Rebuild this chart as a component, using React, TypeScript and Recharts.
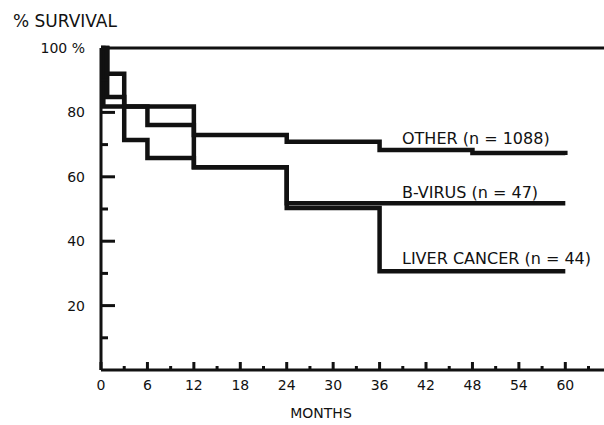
import {
  LineChart,
  Line,
  XAxis,
  YAxis,
  ReferenceLine,
  ReferenceDot,
} from "recharts";

// survival curves (months, % survival)
const otherMonths = [0, 0.3, 12, 24, 36, 48, 60];
const otherSurvival = [100, 81.8, 73, 70.9, 68.3, 67.4, 66.8];

const bVirusMonths = [0, 0.8, 3, 6, 12, 24, 60];
const bVirusSurvival = [100, 92, 81.8, 76.1, 63, 51.8, 51.8];

const liverMonths = [0, 0.8, 3, 6, 12, 24, 36, 60];
const liverSurvival = [100, 84.8, 71.4, 65.8, 63, 50.3, 30.7, 30.7];

const monthTicks = [0, 3, 6, 9, 12, 15, 18, 21, 24, 27, 30, 33, 36, 39, 42, 45, 48, 51, 54, 57, 60, 63];
const survivalTicks = [10, 20, 30, 40, 50, 60, 70, 80, 90, 100];

const seriesLabels = [
  { text: "OTHER (n = 1088)", month: 38.25, value: 71.9 },
  { text: "B-VIRUS (n = 47)", month: 38.25, value: 55.3 },
  { text: "LIVER CANCER (n = 44)", month: 38.25, value: 34.8 },
];

const toPoints = (months: number[], values: number[]) =>
  months.map((m, i) => ({ month: m, survival: values[i] }));

const FONT = "'DejaVu Sans', sans-serif";
const INK = "#111";

function MonthTick({ x, y, payload }: any) {
  const v = payload.value;
  const major = v % 6 === 0;
  return (
    <g>
      <line x1={x} x2={x} y1={y} y2={y - (major ? 8 : 4)} stroke={INK} strokeWidth={3} />
      {major && (
        <text x={x} y={y + 20} textAnchor="middle" fontSize={14} fontFamily={FONT} fill={INK}>
          {v}
        </text>
      )}
    </g>
  );
}

function SurvivalTick({ x, y, payload }: any) {
  const v = payload.value;
  const major = v % 20 === 0;
  return (
    <g>
      {v < 100 && (
        <line x1={x} x2={x + (major ? 14 : 7)} y1={y} y2={y} stroke={INK} strokeWidth={3} />
      )}
      {major && (
        <text x={x - 16} y={y + 5} textAnchor="end" fontSize={14} fontFamily={FONT} fill={INK}>
          {v === 100 ? "100 %" : v}
        </text>
      )}
    </g>
  );
}

export default function App() {
  return (
    <div style={{ position: "relative", width: 604, height: 425, background: "#fff", overflow: "hidden" }}>
      <style>{"body{margin:0;overflow:hidden}"}</style>
      <div
        style={{
          position: "absolute",
          left: 13,
          top: 13,
          fontFamily: FONT,
          fontSize: 17,
          lineHeight: "17px",
          color: INK,
          whiteSpace: "nowrap",
        }}
      >
        % SURVIVAL
      </div>
      <LineChart width={604} height={425} margin={{ top: 48, right: 0, bottom: 0, left: 8 }}>
        <XAxis
          dataKey="month"
          type="number"
          domain={[0, 65]}
          ticks={monthTicks}
          interval={0}
          height={55}
          tickSize={0}
          tickMargin={0}
          tickLine={false}
          axisLine={{ stroke: INK, strokeWidth: 3 }}
          tick={<MonthTick />}
          allowDataOverflow
        />
        <YAxis
          type="number"
          domain={[0, 100]}
          ticks={survivalTicks}
          interval={0}
          width={93}
          tickSize={0}
          tickMargin={0}
          tickLine={false}
          axisLine={{ stroke: INK, strokeWidth: 3 }}
          tick={<SurvivalTick />}
        />
        <ReferenceLine y={100} stroke={INK} strokeWidth={3} />
        <Line
          data={toPoints(otherMonths, otherSurvival)}
          dataKey="survival"
          type="stepAfter"
          stroke={INK}
          strokeWidth={4.5}
          dot={false}
          isAnimationActive={false}
        />
        <Line
          data={toPoints(bVirusMonths, bVirusSurvival)}
          dataKey="survival"
          type="stepAfter"
          stroke={INK}
          strokeWidth={4.5}
          dot={false}
          isAnimationActive={false}
        />
        <Line
          data={toPoints(liverMonths, liverSurvival)}
          dataKey="survival"
          type="stepAfter"
          stroke={INK}
          strokeWidth={4.5}
          dot={false}
          isAnimationActive={false}
        />
        {seriesLabels.map((s) => (
          <ReferenceDot
            key={s.text}
            x={s.month}
            y={s.value}
            r={0}
            fill="none"
            stroke="none"
            label={{
              value: s.text,
              position: "right",
              offset: 5,
              fontSize: 16,
              fontFamily: FONT,
              fill: INK,
            }}
          />
        ))}
      </LineChart>
      <div
        style={{
          position: "absolute",
          left: 321,
          top: 406,
          transform: "translateX(-50%)",
          fontFamily: FONT,
          fontSize: 14,
          lineHeight: "14px",
          color: INK,
          whiteSpace: "nowrap",
        }}
      >
        MONTHS
      </div>
    </div>
  );
}
